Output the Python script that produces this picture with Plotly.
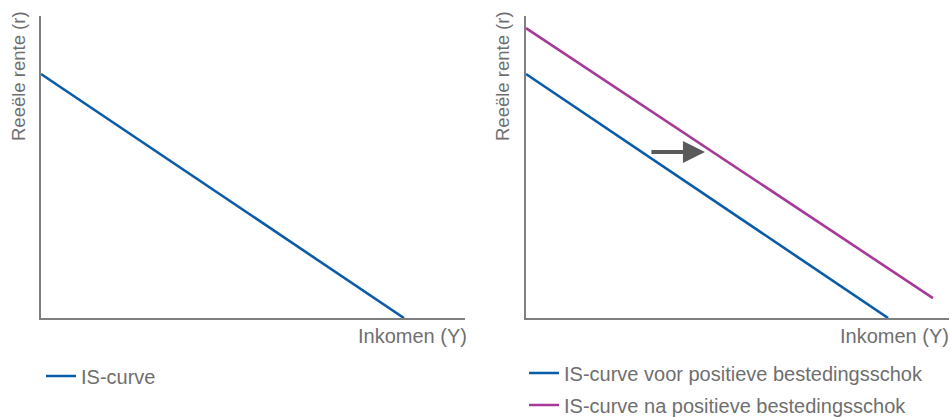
import plotly.graph_objects as go

# ---- data (axis units 0-100) ----
is_x = [0, 85.6]
is_y = [80.8, 0]
is_na_x = [0, 96.2]
is_na_y = [96.0, 6.6]
arrow_x = [29.3, 42.3]
arrow_y = [55.0, 55.0]

name_left = "IS-curve"
name_voor = "IS-curve voor positieve bestedingsschok"
name_na = "IS-curve na positieve bestedingsschok"
y_title = "Reeële rente (r)"
x_title = "Inkomen (Y)"

BLUE = "#0b5ca8"
PURPLE = "#a63a98"
GREY_TXT = "#6f6f6f"
AXIS = "#7f7f7f"
FONT = "Liberation Sans, Arial, sans-serif"
FS = 20

W, H = 951, 417
def px(x):
    return x / W
def py(y):
    return 1 - y / H

fig = go.Figure()
fig.add_trace(go.Scatter(x=is_x, y=is_y, mode="lines", name=name_left,
                         line=dict(color=BLUE, width=2.6), xaxis="x", yaxis="y",
                         legend="legend", hoverinfo="skip"))
fig.add_trace(go.Scatter(x=is_x, y=is_y, mode="lines", name=name_voor,
                         line=dict(color=BLUE, width=2.6), xaxis="x2", yaxis="y2",
                         legend="legend2", legendgroup="a", hoverinfo="skip"))
fig.add_trace(go.Scatter(x=is_na_x, y=is_na_y, mode="lines", name=name_na,
                         line=dict(color=PURPLE, width=2.6), xaxis="x2", yaxis="y2",
                         legend="legend2", legendgroup="b", hoverinfo="skip"))

axis_common = dict(range=[0, 100], showgrid=False, zeroline=False, showticklabels=False,
                   ticks="", showline=True, linecolor=AXIS, linewidth=1.6, fixedrange=True)

ydom = [py(318), py(16)]
fig.update_layout(
    width=W, height=H, autosize=False,
    margin=dict(l=0, r=0, t=0, b=0, autoexpand=False),
    paper_bgcolor="white", plot_bgcolor="white",
    font=dict(family=FONT, size=FS, color=GREY_TXT),
    xaxis=dict(domain=[px(41), px(465)], anchor="y", **axis_common),
    yaxis=dict(domain=ydom, anchor="x", **axis_common),
    xaxis2=dict(domain=[px(526), px(949)], anchor="y2", **axis_common),
    yaxis2=dict(domain=ydom, anchor="x2", **axis_common),
    legend=dict(xref="container", yref="container",
                x=px(41), y=py(376), xanchor="left", yanchor="middle",
                bgcolor="rgba(0,0,0,0)", font=dict(family=FONT, size=FS, color=GREY_TXT),
                itemclick=False, itemdoubleclick=False),
    legend2=dict(xref="container", yref="container",
                 x=px(524), y=py(389), xanchor="left", yanchor="middle",
                 bgcolor="rgba(0,0,0,0)", tracegroupgap=3,
                 font=dict(family=FONT, size=FS, color=GREY_TXT),
                 itemclick=False, itemdoubleclick=False),
    showlegend=True,
)

annos = []
for xc in (19, 503):
    annos.append(dict(text=y_title, textangle=-90, xref="paper", yref="paper",
                      x=px(xc), y=py(9), xanchor="center", yanchor="top",
                      showarrow=False, font=dict(family=FONT, size=18.5, color=GREY_TXT)))
for xr in (469, 951):
    annos.append(dict(text=x_title, xref="paper", yref="paper",
                      x=px(xr), y=py(336), xanchor="right", yanchor="middle",
                      showarrow=False, font=dict(family=FONT, size=FS, color=GREY_TXT)))
annos.append(dict(x=arrow_x[1], y=arrow_y[1], ax=arrow_x[0], ay=arrow_y[0],
                  xref="x2", yref="y2", axref="x2", ayref="y2", text="",
                  showarrow=True, arrowhead=2, arrowsize=1.1, arrowwidth=4,
                  arrowcolor="#5a5a5a"))
fig.update_layout(annotations=annos)

fig.write_html("out.html", config={"displayModeBar": False, "responsive": False},
               post_script="document.body.style.margin='0';")
